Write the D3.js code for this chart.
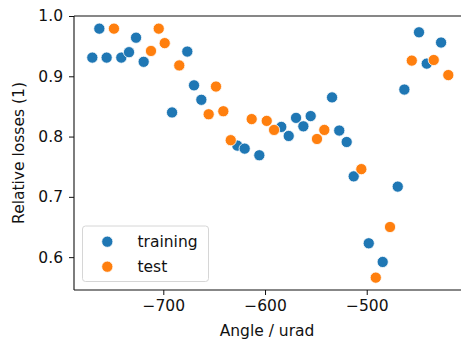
<!DOCTYPE html>
<html>
<head>
<meta charset="utf-8">
<script src="https://cdn.jsdelivr.net/npm/d3@7"></script>
<style>
  html, body { margin: 0; padding: 0; background: #fff; }
  svg { display: block; }
  text { font-family: "DejaVu Sans", sans-serif; fill: #111; }
</style>
</head>
<body>
<svg id="chart" width="461" height="341"></svg>
<script>
// Relative losses per tilt angle, split into training and test samples
const trainAngle = [-769.8, -762.9, -755.7, -741.3, -733.7, -726.8, -719.3, -691.4, -676.4, -669.8,
  -662.6, -627.2, -620.0, -605.6, -584.0, -576.7, -569.5, -562.3, -555.1, -534.1,
  -527.0, -519.7, -512.8, -498.0, -484.3, -469.5, -463.0, -448.6, -441.0, -426.9];
const trainLoss = [0.931, 0.979, 0.931, 0.931, 0.940, 0.964, 0.924, 0.840, 0.941, 0.885,
  0.861, 0.785, 0.780, 0.769, 0.816, 0.801, 0.831, 0.817, 0.834, 0.865,
  0.810, 0.791, 0.734, 0.623, 0.592, 0.717, 0.878, 0.973, 0.921, 0.956];

const testAngle = [-748.5, -712.1, -704.5, -698.6, -684.3, -655.4, -648.2, -641.0, -633.7, -613.1,
  -598.3, -591.1, -548.9, -541.7, -505.3, -491.1, -477.1, -455.7, -434.1, -419.8];
const testLoss = [0.979, 0.942, 0.979, 0.955, 0.918, 0.837, 0.883, 0.842, 0.794, 0.829,
  0.826, 0.811, 0.796, 0.811, 0.746, 0.566, 0.650, 0.926, 0.927, 0.902];

const xTicks = [-700, -600, -500];
const yTicks = [0.6, 0.7, 0.8, 0.9, 1.0];
const seriesNames = ["training", "test"];
const seriesColors = ["#1f77b4", "#ff7f0e"];

const svg = d3.select("#chart");
// the plot area runs slightly past the right edge of the canvas
const plot = { left: 74, right: 460, top: 16, bottom: 290 };

const x = d3.scaleLinear().domain([-787.8, -408.3]).range([plot.left, plot.right]);
const y = d3.scaleLinear().domain([0.5455, 1.0]).range([plot.bottom, plot.top]);

const fontSize = 15.5;
const ink = "#111";

// axes
const xAxis = d3.axisBottom(x).tickValues(xTicks).tickSize(5).tickPadding(5)
  .tickFormat(d => d3.format("d")(d).replace("-", "\u2212"));
const yAxis = d3.axisLeft(y).tickValues(yTicks).tickSize(5).tickPadding(6)
  .tickFormat(d3.format(".1f"));

const gx = svg.append("g").attr("transform", `translate(0,${plot.bottom})`).call(xAxis);
const gy = svg.append("g").attr("transform", `translate(${plot.left},0)`).call(yAxis);
[gx, gy].forEach(g => {
  g.select(".domain").remove();
  g.selectAll(".tick line").attr("stroke", ink).attr("stroke-width", 1);
  g.selectAll(".tick text").attr("font-size", fontSize).attr("font-family", "DejaVu Sans").attr("fill", ink);
});

// spines (the right one lies outside the canvas)
const spine = svg.append("g").attr("stroke", ink).attr("stroke-width", 1.1).attr("fill", "none");
spine.append("line").attr("x1", plot.left).attr("x2", 461).attr("y1", plot.top).attr("y2", plot.top);
spine.append("line").attr("x1", plot.left).attr("x2", 461).attr("y1", plot.bottom).attr("y2", plot.bottom);
spine.append("line").attr("x1", plot.left).attr("x2", plot.left).attr("y1", plot.top).attr("y2", plot.bottom);

// axis labels
svg.append("text")
  .attr("x", 267).attr("y", 336)
  .attr("text-anchor", "middle").attr("font-size", fontSize)
  .text("Angle / urad");
svg.append("text")
  .attr("transform", `translate(24,${(plot.top + plot.bottom) / 2}) rotate(-90)`)
  .attr("text-anchor", "middle").attr("font-size", fontSize)
  .text("Relative losses (1)");

// scatter points
const series = [
  { name: seriesNames[0], color: seriesColors[0], xs: trainAngle, ys: trainLoss },
  { name: seriesNames[1], color: seriesColors[1], xs: testAngle, ys: testLoss }
];
const pts = svg.append("g");
series.forEach(s => {
  pts.append("g").selectAll("circle")
    .data(s.xs.map((a, i) => [a, s.ys[i]]))
    .join("circle")
    .attr("cx", d => x(d[0]))
    .attr("cy", d => y(d[1]))
    .attr("r", 5.6)
    .attr("fill", s.color)
    .attr("stroke", "#fff")
    .attr("stroke-width", 0.8);
});

// legend
const legend = svg.append("g");
legend.append("rect")
  .attr("x", 82.5).attr("y", 226).attr("width", 126).attr("height", 55.5)
  .attr("rx", 3).attr("ry", 3)
  .attr("fill", "#fff").attr("fill-opacity", 0.8)
  .attr("stroke", "#d6d6d6").attr("stroke-width", 1);
series.forEach((s, i) => {
  const cy = 241.7 + i * 25;
  legend.append("circle").attr("cx", 107.3).attr("cy", cy).attr("r", 5.6)
    .attr("fill", s.color).attr("stroke", "#fff").attr("stroke-width", 0.8);
  legend.append("text").attr("x", 137.5).attr("y", cy).attr("dy", "0.35em")
    .attr("font-size", fontSize).text(s.name);
});
</script>
</body>
</html>
